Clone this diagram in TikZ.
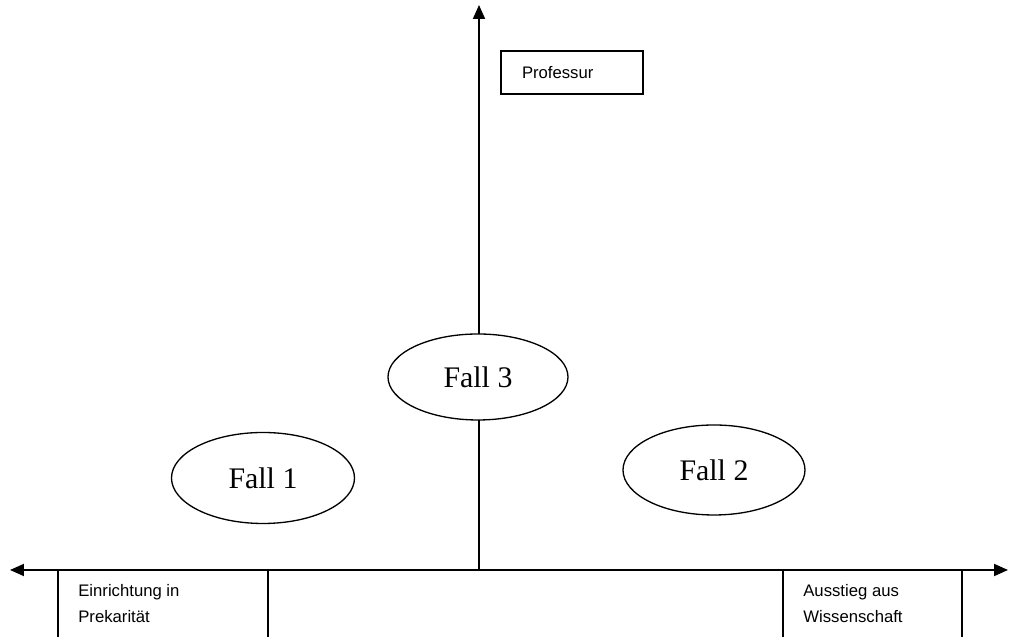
\documentclass[tikz,border=0pt]{standalone}
\usepackage{fontspec}
\setmainfont{Liberation Serif}
\setsansfont{Liberation Sans}
\usetikzlibrary{arrows.meta, shapes.geometric}

\begin{document}
\begin{tikzpicture}[> = {Triangle[length=0.28cm, width=0.24cm]}, every node/.style = {inner sep=0pt},
    achse/.style = {line width=1.1pt},
    rahmen/.style = {line width=0.6pt},
    fall/.style = {ellipse, draw, fill=white, line width=0.75pt, font=\fontsize{17}{20}\selectfont},
    kasten/.style = {font=\sffamily\fontsize{9.5}{14.8}\selectfont, align=left}]
    \clip (0, 0) rectangle (20.22, 12.74);
    \coordinate (links) at (0.2, 1.34);
    \coordinate (rechts) at (20.16, 1.34);
    \coordinate (mitte) at (9.58, 1.34);
    \coordinate (oben) at (9.58, 12.64);
    % Kaesten unter der Achse
    \draw[rahmen] (1.16, 1.34) rectangle (5.36, -0.5);
    \draw[rahmen] (15.66, 1.34) rectangle (19.24, -0.5);
    \node[kasten, anchor=north west] (prekar) at (1.56, 1.06) {Einrichtung in\\Prekarität};
    \node[kasten, anchor=north west] (ausstieg) at (16.06, 1.06) {Ausstieg aus\\Wissenschaft};
    \draw[achse, <->] (links) -- (rechts);
    \draw[achse, ->] (mitte) -- (oben);
    \node[kasten, draw, rahmen, minimum width=2.84cm, minimum height=0.86cm, text width=2cm, inner xsep=0.42cm] (prof) at (11.44, 11.29) {Professur};
    \node[fall, minimum width=3.66cm, minimum height=1.82cm] (fall1) at (5.26, 3.18) {Fall 1};
    \node[fall, minimum width=3.64cm, minimum height=1.8cm] (fall2) at (14.28, 3.34) {Fall 2};
    \node[fall, minimum width=3.6cm, minimum height=1.72cm] (fall3) at (9.56, 5.2) {Fall 3};
\end{tikzpicture}
\end{document}
